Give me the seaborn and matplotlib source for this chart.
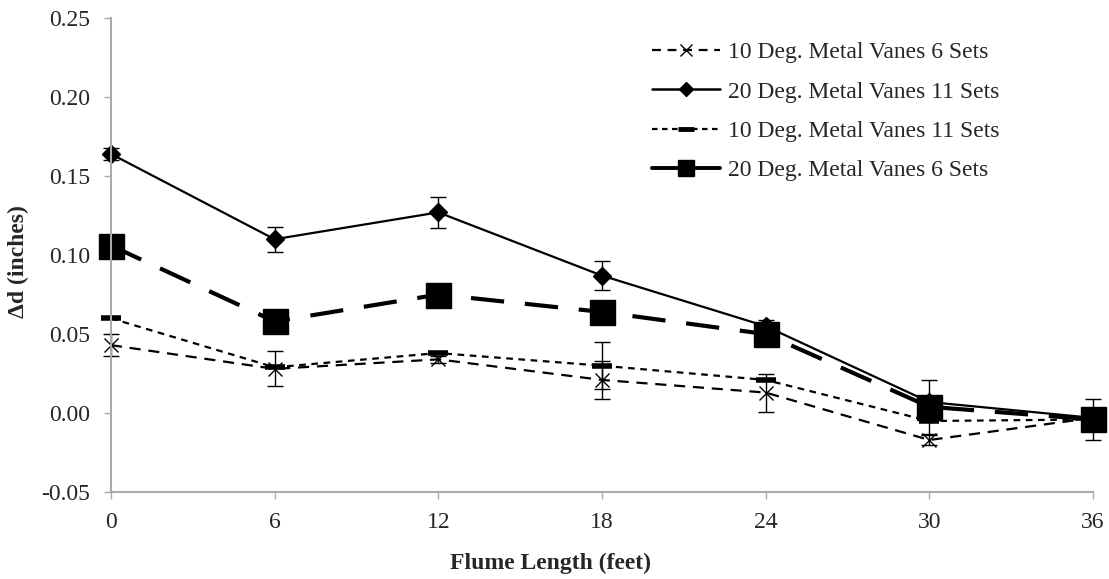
import matplotlib
matplotlib.use("Agg")
import matplotlib.pyplot as plt
from matplotlib.lines import Line2D
import seaborn as sns
import pandas as pd
import numpy as np

x_ft = [0, 6, 12, 18, 24, 30, 36]
s_10d6 = [0.043, 0.028, 0.034, 0.021, 0.013, -0.017, -0.003]
s_20d11 = [0.164, 0.110, 0.127, 0.087, 0.055, 0.007, -0.003]
s_10d11 = [0.060, 0.029, 0.038, 0.030, 0.021, -0.005, -0.004]
s_20d6 = [0.106, 0.058, 0.075, 0.064, 0.050, 0.004, -0.004]

err_10d6 = [0.007, 0.011, 0.002, 0.012, 0.012, 0.003, 0.0]
err_20d11 = [0.004, 0.008, 0.010, 0.009, 0.004, 0.0, 0.0]
err_10d11 = [0.0, 0.0, 0.0, 0.015, 0.0, 0.0, 0.0]
err_20d6 = [0.0, 0.0, 0.0, 0.0, 0.0, 0.017, 0.013]

labels = ["10 Deg. Metal Vanes 6 Sets", "20 Deg. Metal Vanes 11 Sets",
          "10 Deg. Metal Vanes 11 Sets", "20 Deg. Metal Vanes 6 Sets"]
yticks = [-0.05, 0.00, 0.05, 0.10, 0.15, 0.20, 0.25]

sns.set_style("white")
plt.rcParams['font.family'] = ['Liberation Serif', 'DejaVu Serif']

FS = 17
fig = plt.figure(figsize=(11.09, 5.79), dpi=100)
ax = fig.add_axes([0.100, 0.150, 0.8856, 0.819])

series = [s_10d6, s_20d11, s_10d11, s_20d6]
errs = [err_10d6, err_20d11, err_10d11, err_20d6]
styles = [
    dict(marker='x', markersize=10, markeredgewidth=1.0, linestyle=(0, (5, 3.5)), linewidth=1.6),
    dict(marker='D', markersize=9, markeredgewidth=1.0, linestyle='-', linewidth=1.6),
    dict(marker='_', markersize=15, markeredgewidth=4, linestyle=(0, (3, 2.5)), linewidth=1.6),
    dict(marker='s', markersize=18, markeredgewidth=1.0, linestyle=(0, (8, 5)), linewidth=3.0),
]

for vals, e, lab, st in zip(series, errs, labels, styles):
    df = pd.DataFrame({"x": x_ft, "y": vals})
    sns.lineplot(data=df, x="x", y="y", ax=ax, color="black", legend=False,
                 markerfacecolor="black", markeredgecolor="black", clip_on=False, **st)
    ea = np.array(e)
    mask = ea > 0
    ax.errorbar(np.array(x_ft)[mask], np.array(vals)[mask], yerr=ea[mask],
                fmt='none', ecolor='black', elinewidth=1.0, capsize=5.5, capthick=1.0,
                zorder=1, clip_on=False)

handles = [
    Line2D([], [], color='black', marker='x', markersize=9, markeredgewidth=1.0,
           linestyle=(0, (4, 3)), linewidth=1.6),
    Line2D([], [], color='black', marker='D', markersize=7, linestyle='-', linewidth=1.8),
    Line2D([], [], color='black', marker='_', markersize=12, markeredgewidth=3.5,
           linestyle=(0, (2.5, 2)), linewidth=1.6),
    Line2D([], [], color='black', marker='s', markersize=11, linestyle='-', linewidth=2.8),
]

ax.set_xlim(0, 36)
ax.set_ylim(-0.05, 0.25)
ax.set_xticks(x_ft)
ax.set_yticks(yticks)
ax.set_yticklabels([f"{v:.2f}" for v in yticks])
ax.tick_params(axis='both', labelsize=FS, direction='out', length=5, color='#aaaaaa',
               bottom=True, left=True, width=1)
ax.tick_params(axis='x', pad=9)
ax.tick_params(axis='y', pad=10)
for side in ['top', 'right']:
    ax.spines[side].set_visible(False)
for side in ['left', 'bottom']:
    ax.spines[side].set_color('#aaaaaa')
    ax.spines[side].set_linewidth(1.5)

ax.set_xlabel("Flume Length (feet)", fontsize=FS, fontweight='bold')
ax.xaxis.set_label_coords((551 - 111) / 982, (492 - 563) / 474)
ax.xaxis.label.set_va('center')
ax.set_ylabel("Δd (inches)", fontsize=FS, fontweight='bold')
ax.yaxis.set_label_coords((19 - 111) / 982, (492 - 262) / 474)
ax.yaxis.label.set_va('center')

ax.legend(handles, labels, loc='upper left', bbox_to_anchor=((652 - 111) / 982, (492 - 42) / 474),
          frameon=False, fontsize=FS, handlelength=2.9, labelspacing=0.75,
          handletextpad=0.3, borderpad=0, borderaxespad=0)

fig.savefig("out.png", dpi=100)
